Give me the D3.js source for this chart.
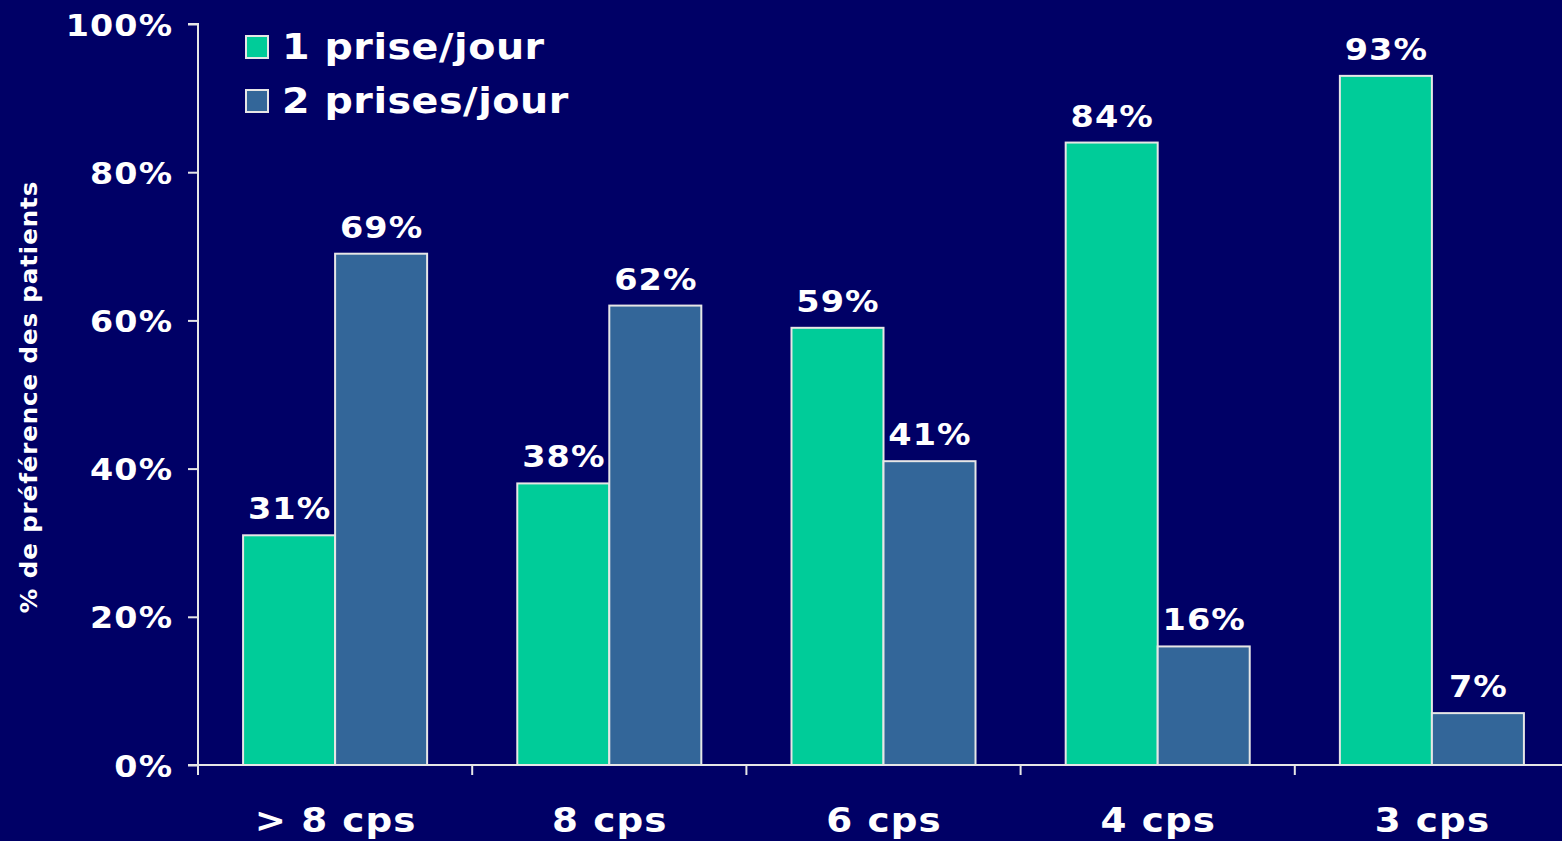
<!DOCTYPE html>
<html>
<head>
<meta charset="utf-8">
<script src="https://cdn.jsdelivr.net/npm/d3@7"></script>
<style>
  html, body { margin: 0; padding: 0; background: #000066; }
  svg { display: block; }
  text { font-family: Verdana, "DejaVu Sans", sans-serif; font-weight: bold; fill: #ffffff; }
</style>
</head>
<body>
<svg id="chart" width="1562" height="841"></svg>
<script>
// Preferred dosing frequency by number of tablets
const categories = ["> 8 cps", "8 cps", "6 cps", "4 cps", "3 cps"];
const seriesNames = ["1 prise/jour", "2 prises/jour"];
const oncePerDay = [31, 38, 59, 84, 93];
const twicePerDay = [69, 62, 41, 16, 7];
const yTicks = [0, 20, 40, 60, 80, 100];
const colors = ["#00cc99", "#336699"];

const svg = d3.select("#chart");
const W = 1562, H = 841;
svg.append("rect").attr("width", W).attr("height", H).attr("fill", "#000066");

const x0 = 198, x1 = 1569, yTop = 24, yBottom = 765;
const lineColor = "#e6e6e6";

// Wide bold lettering: glyphs are stretched horizontally
const wide = { value: 1.08, tick: 1.11, cat: 1.13, title: 1.07, legend: 1.1 };

const x = d3.scaleBand().domain(categories).range([x0, x1]).paddingInner(0).paddingOuter(0);
const xs = d3.scaleBand().domain(seriesNames).range([0, x.bandwidth()]).paddingOuter(0.49).paddingInner(0);
const y = d3.scaleLinear().domain([0, 100]).range([yBottom, yTop]);

const rows = categories.map((c, i) => ({
  cat: c,
  values: [
    { name: seriesNames[0], v: oncePerDay[i], color: colors[0] },
    { name: seriesNames[1], v: twicePerDay[i], color: colors[1] }
  ]
}));

// Bars
const groups = svg.append("g").selectAll("g").data(rows).join("g")
  .attr("transform", d => `translate(${x(d.cat)},0)`);

groups.selectAll("rect").data(d => d.values).join("rect")
  .attr("x", d => xs(d.name))
  .attr("y", d => y(d.v))
  .attr("width", xs.bandwidth())
  .attr("height", d => y(0) - y(d.v))
  .attr("fill", d => d.color)
  .attr("stroke", lineColor)
  .attr("stroke-width", 2);

// Value labels
groups.selectAll("text.val").data(d => d.values).join("text")
  .attr("class", "val")
  .attr("transform", d => `translate(${xs(d.name) + xs.bandwidth() / 2},${y(d.v) - 16}) scale(${wide.value},1)`)
  .attr("dx", 0.5)
  .attr("text-anchor", "middle")
  .style("font-size", "31px")
  .style("letter-spacing", "1px")
  .text(d => d.v + "%");

// Y axis
const yAxis = d3.axisLeft(y).tickValues(yTicks).tickFormat(d => d + "%").tickSize(10).tickPadding(16);
const gy = svg.append("g").attr("transform", `translate(${x0},0)`).call(yAxis);
gy.attr("font-family", null).attr("font-size", null);
gy.select(".domain").attr("stroke", lineColor).attr("stroke-width", 2).attr("d", `M-10,${yTop}H0V${yBottom}`);
gy.selectAll(".tick line").attr("stroke", lineColor).attr("stroke-width", 2);
gy.selectAll(".tick text").attr("fill", "#ffffff").style("font-size", "30px")
  .style("letter-spacing", "1px")
  .attr("x", -26 / wide.tick + 1)
  .attr("transform", `scale(${wide.tick},1)`)
  .attr("dy", "0.37em");

// X axis
const xAxis = d3.axisBottom(x).tickSize(10).tickPadding(30);
const gx = svg.append("g").attr("transform", `translate(0,${yBottom})`).call(xAxis);
gx.attr("font-family", null).attr("font-size", null);
gx.select(".domain").attr("stroke", lineColor).attr("stroke-width", 2).attr("d", `M${x0 - 10},0H${x1}`);
gx.selectAll(".tick line")
  .attr("stroke", lineColor).attr("stroke-width", 2)
  .attr("transform", `translate(${-x.bandwidth() / 2},0)`);
gx.selectAll(".tick text").attr("fill", "#ffffff").style("font-size", "33px")
  .style("letter-spacing", "1px")
  .attr("transform", `scale(${wide.cat},1)`)
  .attr("dx", 0.5).attr("dy", null).attr("y", 67);

// Axis title
svg.append("text")
  .attr("transform", `translate(37,397) rotate(-90) scale(${wide.title},1)`)
  .attr("text-anchor", "middle")
  .style("font-size", "23px")
  .style("letter-spacing", "0.8px")
  .text("% de préférence des patients");

// Legend
const legend = svg.append("g").attr("transform", "translate(246,36)");
const items = legend.selectAll("g").data(seriesNames).join("g")
  .attr("transform", (d, i) => `translate(0,${i * 54})`);
items.append("rect")
  .attr("width", 22).attr("height", 22)
  .attr("fill", (d, i) => colors[i])
  .attr("stroke", lineColor).attr("stroke-width", 2);
items.append("text")
  .attr("transform", `translate(36,23) scale(${wide.legend},1)`)
  .style("font-size", "36px")
  .style("letter-spacing", "0.5px")
  .text(d => d);
</script>
</body>
</html>
